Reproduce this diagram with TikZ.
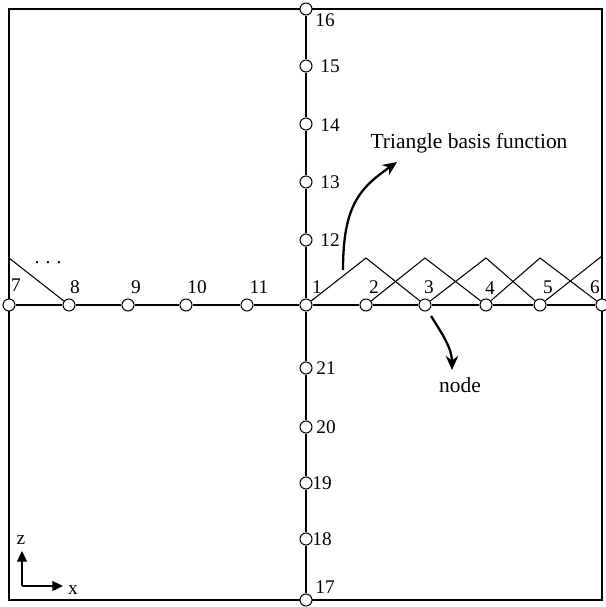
\documentclass[tikz,border=0pt]{standalone}
\usepackage{fontspec}
\setmainfont{Liberation Serif}
\usetikzlibrary{arrows.meta}

\begin{document}
\begin{tikzpicture}[
    x=0.02cm, y=-0.02cm,
    mesh/.style={line width=0.6pt},
    gridpt/.style={draw, circle, fill=white, line width=0.6pt, inner sep=0pt, minimum size=0.24cm},
    num/.style={font=\fontsize{11}{12}\selectfont, inner sep=0pt},
    note/.style={font=\fontsize{12.2}{13}\selectfont, inner sep=0pt},
    pointer/.style={-{Stealth[length=8pt,width=7pt]}, line width=1.3pt},
    axis/.style={-{Triangle[length=6pt,width=5.5pt]}, line width=1.1pt}
]
    \useasboundingbox (0,0) rectangle (605,607);
    \draw[mesh] (9,9) rectangle (602,600);

    % grid points on the x line
    \node[gridpt] (n7) at (9,305) {};
    \node[gridpt] (n8) at (69,305) {};
    \node[gridpt] (n9) at (128,305) {};
    \node[gridpt] (n10) at (186,305) {};
    \node[gridpt] (n11) at (247,305) {};
    \node[gridpt] (n1) at (306,305) {};
    \node[gridpt] (n2) at (366,305) {};
    \node[gridpt] (n3) at (425,305) {};
    \node[gridpt] (n4) at (486,305) {};
    \node[gridpt] (n5) at (540,305) {};
    \node[gridpt] (n6) at (602,305) {};
    % grid points on the z line
    \node[gridpt] (n16) at (306,9) {};
    \node[gridpt] (n15) at (306,66) {};
    \node[gridpt] (n14) at (306,124) {};
    \node[gridpt] (n13) at (306,182) {};
    \node[gridpt] (n12) at (306,240) {};
    \node[gridpt] (n21) at (306,368) {};
    \node[gridpt] (n20) at (306,427) {};
    \node[gridpt] (n19) at (306,483) {};
    \node[gridpt] (n18) at (306,539) {};
    \node[gridpt] (n17) at (306,600) {};

    \draw[mesh] (n7) -- (n8) -- (n9) -- (n10) -- (n11) -- (n1) -- (n2) -- (n3) -- (n4) -- (n5) -- (n6);
    \draw[mesh] (n16) -- (n15) -- (n14) -- (n13) -- (n12) -- (n1) -- (n21) -- (n20) -- (n19) -- (n18) -- (n17);

    % triangle tops
    \coordinate (a2) at (366,258);
    \coordinate (a3) at (425,258);
    \coordinate (a4) at (486,258);
    \coordinate (a5) at (540,258);
    \coordinate (a6) at (602,256);
    \coordinate (a7) at (9,258);
    \draw[mesh] (n1) -- (a2) -- (n3);
    \draw[mesh] (n2) -- (a3) -- (n4);
    \draw[mesh] (n3) -- (a4) -- (n5);
    \draw[mesh] (n4) -- (a5) -- (n6);
    \draw[mesh] (n5) -- (a6);
    \draw[mesh] (a7) -- (n8);

    % numbers
    \node[num] (t7) at (16,285) {7};
    \node[num] (t8) at (75,287) {8};
    \node[num] (t9) at (136,287) {9};
    \node[num] (t10) at (197,287) {10};
    \node[num] (t11) at (259,287) {11};
    \node[num] (t1) at (317,287) {1};
    \node[num] (t2) at (374,287) {2};
    \node[num] (t3) at (429,287) {3};
    \node[num] (t4) at (490,288) {4};
    \node[num] (t5) at (548,287) {5};
    \node[num] (t6) at (595,287) {6};
    \node[num] (t16) at (325,20) {16};
    \node[num] (t15) at (330,66) {15};
    \node[num] (t14) at (330,125) {14};
    \node[num] (t13) at (330,182) {13};
    \node[num] (t12) at (330,240) {12};
    \node[num] (t21) at (326,368) {21};
    \node[num] (t20) at (326,427) {20};
    \node[num] (t19) at (322,483) {19};
    \node[num] (t18) at (322,539) {18};
    \node[num] (t17) at (325,587) {17};
    \node[num] (dots) at (48,263) {.\hspace{3.5pt}.\hspace{3.5pt}.};

    % pointers
    \node[note] (tbf) at (469,143) {Triangle basis function};
    \node[note] (nd) at (460,385) {node};
    \coordinate (tbfstart) at (343,270);
    \coordinate (tbftip) at (397,162);
    \coordinate (ndstart) at (431,316);
    \coordinate (ndtip) at (452,370);
    \draw[pointer] (tbfstart) .. controls (343,205) and (360,188) .. (tbftip);
    \draw[pointer] (ndstart) .. controls (441,332) and (452,348) .. (ndtip);

    % axes
    \coordinate (o) at (22,586);
    \coordinate (zt) at (22,551);
    \coordinate (xt) at (63,586);
    \draw[axis] (o) -- (zt);
    \draw[axis] (o) -- (xt);
    \node[num] (zl) at (21,540) {z};
    \node[num] (xl) at (73,590) {x};
\end{tikzpicture}
\end{document}
